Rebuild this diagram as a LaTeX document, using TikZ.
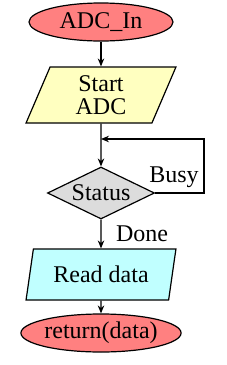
\documentclass[tikz,border=0pt]{standalone}
\usepackage{fontspec}
\setmainfont{Liberation Serif}
\usetikzlibrary{shapes.geometric,arrows.meta}
\definecolor{termfill}{HTML}{FF8080}
\definecolor{startfill}{HTML}{FFFFC0}
\definecolor{readfill}{HTML}{C0FFFF}
\definecolor{decfill}{HTML}{DCDCDC}
\begin{document}
\begin{tikzpicture}[x=1pt,y=-1pt,
  txt/.style={font=\fontsize{24}{23}\selectfont},
  term/.style={ellipse,draw,line width=1.2pt,fill=termfill,minimum width=144pt,minimum height=38pt,inner sep=0pt,txt},
  io/.style={trapezium,trapezium left angle=73,trapezium right angle=107,trapezium stretches=true,draw,line width=1.2pt,minimum width=150pt,minimum height=56pt,inner sep=0pt,txt,align=center},
  dec/.style={diamond,draw,line width=1.2pt,fill=decfill,minimum width=107pt,minimum height=52pt,aspect=2.06,inner sep=0pt,txt},
  arr/.style={line width=1.2pt,-{Stealth[length=8pt,width=6.5pt]}},
  lbl/.style={txt}]
\useasboundingbox (0,0) rectangle (226,365);
\node[term] (in) at (101,22) {ADC\_In};
\node[io,fill=startfill] (st) at (101,95) {Start\\ADC};
\node[dec] (stat) at (101,193) {Status};
\node[io,fill=readfill,minimum height=51pt] (rd) at (101,274.5) {Read data};
\node[term] (ret) at (101,333) {return(data)};
\coordinate (join) at (101,139);
\draw[arr] (in) -- (st);
\draw[arr] (st) -- (stat);
\draw[arr] (stat.east) -- (204,193) |- (join);
\draw[arr] (stat) -- (rd);
\draw[arr] (rd) -- (ret);
\node[lbl] (busy) at (174,177) {Busy};
\node[lbl] (done) at (142,234) {Done};
\end{tikzpicture}
\end{document}
